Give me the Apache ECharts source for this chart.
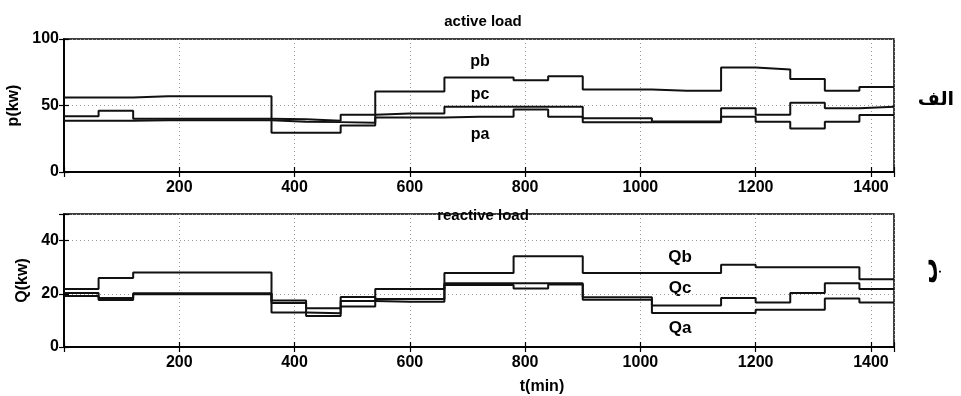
<!DOCTYPE html>
<html>
<head>
<meta charset="utf-8">
<script src="https://cdn.jsdelivr.net/npm/echarts@6/dist/echarts.min.js"></script>
<style>
  html, body { margin: 0; padding: 0; background: #fff; }
  #chart { width: 961px; height: 396px; }
</style>
</head>
<body>
<div id="chart"></div>
<script>
// time steps (min), each value holds until the next step
const tEdges = [0, 60, 120, 180, 240, 300, 360, 420, 480, 540, 600, 660, 720,
  780, 840, 900, 960, 1020, 1080, 1140, 1200, 1260, 1320, 1380, 1440]
const xTicks = [200, 400, 600, 800, 1000, 1200, 1400]

// active load (kw)
const pa = [38.5, 38.5, 39, 39, 39, 39, 37.8, 37.5, 37, 41, 41, 41.6, 41.6,
  47, 41.6, 37.5, 37.5, 37.5, 37.5, 41.6, 37.8, 32.8, 37.8, 42.9]
const pb = [56, 56, 57, 57, 57, 57, 29.6, 29.6, 35, 60.5, 60.5, 71, 71,
  69, 72, 62, 62, 61, 61, 78.5, 77, 70, 61, 64]
const pc = [42, 46, 40, 40, 40, 40, 39.6, 38.6, 43, 44, 44, 49, 49,
  49, 49, 40.5, 40.5, 38, 38, 48, 43, 52, 48, 49]

// reactive load (kw)
const Qa = [19.2, 17.7, 19.8, 19.8, 19.8, 19.8, 16.5, 11.7, 17.3, 17, 17, 23.3, 23.3,
  22, 23.5, 17.8, 17.8, 12.8, 12.8, 12.8, 14, 14, 18.2, 16.7]
const Qb = [21.8, 25.9, 28, 28, 28, 28, 13, 12.7, 15.2, 21.8, 21.8, 27.8, 27.8,
  34.1, 34.1, 27.8, 27.8, 27.8, 27.8, 30.9, 30, 30, 30, 25.5]
const Qc = [20.3, 18.4, 20.2, 20.2, 20.2, 20.2, 17.5, 14.6, 18.8, 18, 18, 24, 24,
  24, 24, 18.7, 18.7, 15.6, 15.6, 18.4, 16.7, 20.3, 24, 21.8]

const FONT = 'Liberation Sans'

const chart = echarts.init(document.getElementById('chart'), null, { renderer: 'canvas' })

// pair each value with its step time, last value held to the end
const steps = (vals) => tEdges.map((t, i) => [t, vals[Math.min(i, vals.length - 1)]])

const stepLine = (name, vals, idx) => ({
  name,
  type: 'line',
  step: 'end',
  xAxisIndex: idx,
  yAxisIndex: idx,
  data: steps(vals),
  showSymbol: false,
  lineStyle: { color: '#111', width: 2 },
  animation: false
})

const gridLine = { show: true, lineStyle: { color: '#999', type: [1, 3], width: 1 } }
const tickIn = { show: true, inside: true, length: 5, lineStyle: { color: '#000', width: 1.2 } }
const labelStyle = { color: '#000', fontFamily: FONT, fontWeight: 'bold', fontSize: 16 }

const mainX = (gridIndex) => ({
  type: 'value', gridIndex, min: 0, max: 1440, interval: 200,
  axisLine: { show: true, lineStyle: { color: '#000', width: 1.5 } },
  axisTick: tickIn,
  splitLine: gridLine,
  axisLabel: { ...labelStyle, margin: 8, formatter: v => xTicks.includes(v) ? String(v) : '' }
})
const topX = (gridIndex) => ({
  type: 'value', gridIndex, position: 'top', min: 0, max: 1440, interval: 200,
  axisLine: { show: true, lineStyle: { color: '#000', width: 1.5 } },
  axisTick: tickIn, axisLabel: { show: false }, splitLine: { show: false }
})

const option = {
  backgroundColor: '#fff',
  title: [
    { text: 'active load', left: 478, top: 9, textAlign: 'center',
      textStyle: { fontFamily: FONT, fontWeight: 'bold', fontSize: 15, color: '#000' } },
    { text: 'reactive load', left: 478, top: 203, textAlign: 'center',
      textStyle: { fontFamily: FONT, fontWeight: 'bold', fontSize: 15, color: '#000' } }
  ],
  grid: [
    { left: 64, top: 39, width: 830, height: 133, outerBoundsMode: 'none',
      show: true, borderColor: '#000', borderWidth: 1.5 },
    { left: 64, top: 214, width: 830, height: 133, outerBoundsMode: 'none',
      show: true, borderColor: '#000', borderWidth: 1.5 }
  ],
  xAxis: [mainX(0), mainX(1), topX(0), topX(1)],
  yAxis: [
    {
      type: 'value', gridIndex: 0, min: 0, max: 100, interval: 50,
      name: 'p(kw)', nameLocation: 'middle', nameRotate: 90, nameGap: 37,
      nameTextStyle: { ...labelStyle, fontSize: 16 },
      axisLine: { show: true, lineStyle: { color: '#000', width: 1.5 } },
      axisTick: tickIn, splitLine: gridLine,
      axisLabel: { ...labelStyle, margin: 5 }
    },
    {
      type: 'value', gridIndex: 1, min: 0, max: 50, interval: 20,
      name: 'Q(kw)', nameLocation: 'middle', nameRotate: 90, nameGap: 28,
      nameTextStyle: { ...labelStyle, fontSize: 16 },
      axisLine: { show: true, lineStyle: { color: '#000', width: 1.5 } },
      axisTick: tickIn, splitLine: gridLine,
      axisLabel: { ...labelStyle, margin: 5, formatter: v => v === 50 ? '' : String(v) }
    },
    {
      type: 'value', gridIndex: 0, position: 'right', min: 0, max: 100, interval: 50,
      axisLine: { show: true, lineStyle: { color: '#000', width: 1.5 } },
      axisTick: tickIn, axisLabel: { show: false }, splitLine: { show: false }
    },
    {
      type: 'value', gridIndex: 1, position: 'right', min: 0, max: 50, interval: 20,
      axisLine: { show: true, lineStyle: { color: '#000', width: 1.5 } },
      axisTick: tickIn, axisLabel: { show: false }, splitLine: { show: false }
    }
  ],
  series: [
    stepLine('pa', pa, 0),
    stepLine('pb', pb, 0),
    stepLine('pc', pc, 0),
    stepLine('Qa', Qa, 1),
    stepLine('Qb', Qb, 1),
    stepLine('Qc', Qc, 1)
  ],
  graphic: [
    { type: 'text', x: 480, y: 62, style: { text: 'pb', ...txt(16) } },
    { type: 'text', x: 480, y: 95, style: { text: 'pc', ...txt(16) } },
    { type: 'text', x: 480, y: 135, style: { text: 'pa', ...txt(16) } },
    { type: 'text', x: 680, y: 257, style: { text: 'Qb', ...txt(17) } },
    { type: 'text', x: 680, y: 288, style: { text: 'Qc', ...txt(17) } },
    { type: 'text', x: 680, y: 328, style: { text: 'Qa', ...txt(17) } },
    { type: 'text', x: 542, y: 387, style: { text: 't(min)', ...txt(16) } },
    { type: 'text', x: 936, y: 100,
      style: { text: 'الف', ...txt(19), fontFamily: 'DejaVu Sans' } },
    { type: 'text', x: 930, y: 271, rotation: Math.PI / 2,
      style: { text: 'ب', ...txt(26), fontFamily: 'DejaVu Sans' } }
  ]
}

function txt(size) {
  return {
    fontFamily: FONT, fontWeight: 'bold', fontSize: size, fill: '#000',
    align: 'center', verticalAlign: 'middle'
  }
}

chart.setOption(option)
</script>
</body>
</html>
